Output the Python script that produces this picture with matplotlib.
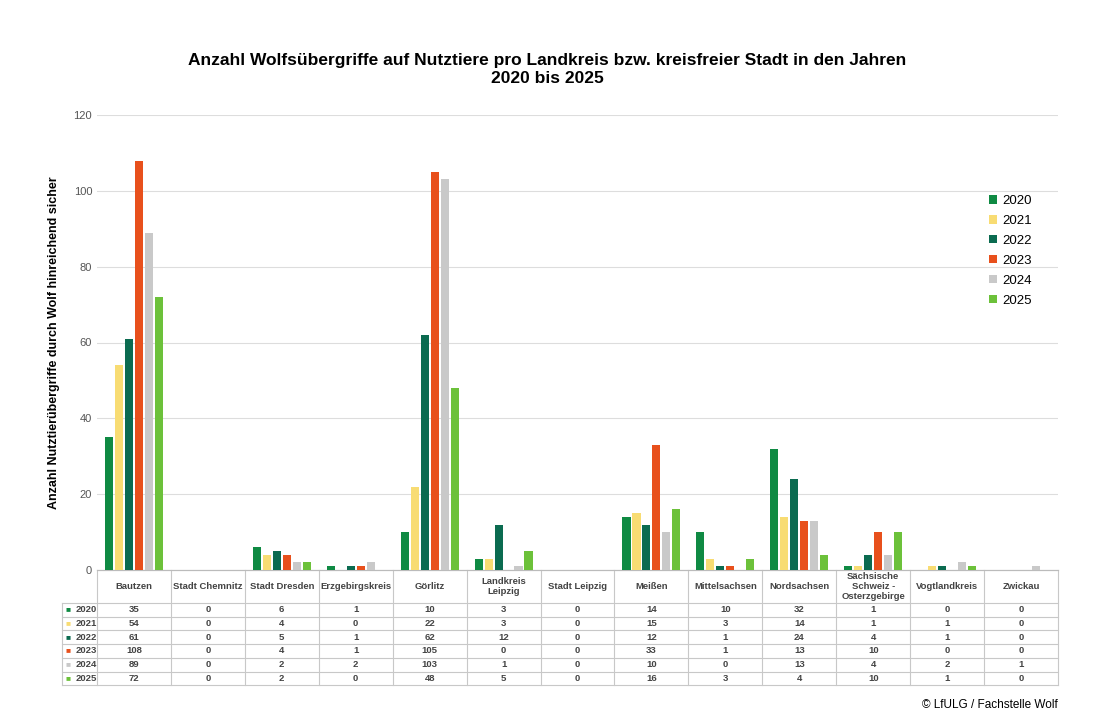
import matplotlib.pyplot as plt
import numpy as np

regions = ['Bautzen', 'Stadt Chemnitz', 'Stadt Dresden', 'Erzgebirgskreis', 'Görlitz',
           'Landkreis\nLeipzig', 'Stadt Leipzig', 'Meißen', 'Mittelsachsen', 'Nordsachsen',
           'Sächsische\nSchweiz -\nOsterzgebirge', 'Vogtlandkreis', 'Zwickau']
years = ['2020', '2021', '2022', '2023', '2024', '2025']
v2020 = [35, 0, 6, 1, 10, 3, 0, 14, 10, 32, 1, 0, 0]
v2021 = [54, 0, 4, 0, 22, 3, 0, 15, 3, 14, 1, 1, 0]
v2022 = [61, 0, 5, 1, 62, 12, 0, 12, 1, 24, 4, 1, 0]
v2023 = [108, 0, 4, 1, 105, 0, 0, 33, 1, 13, 10, 0, 0]
v2024 = [89, 0, 2, 2, 103, 1, 0, 10, 0, 13, 4, 2, 1]
v2025 = [72, 0, 2, 0, 48, 5, 0, 16, 3, 4, 10, 1, 0]
series = [v2020, v2021, v2022, v2023, v2024, v2025]
colors = ['#0f8a43', '#f8dc73', '#0b6b50', '#e8501c', '#c9c9c9', '#6cc13a']

plt.rcParams['font.family'] = ['Liberation Sans', 'DejaVu Sans']
fig = plt.figure(figsize=(10.95, 7.28), dpi=100)
ax = fig.add_axes([97/1095, 158/728, 961/1095, 455/728])

n = len(regions)
x = np.arange(n)
step = 0.135
bw = 0.11
for i, (vals, c, y) in enumerate(zip(series, colors, years)):
    ax.bar(x + (i - 2.5) * step, vals, width=bw, color=c, label=y, zorder=3)

ax.set_xlim(-0.5, n - 0.5)
ax.set_ylim(0, 120)
ax.set_yticks(range(0, 121, 20))
ax.tick_params(axis='y', labelsize=8, colors='#555555', length=0)
ax.set_xticks([])
ax.grid(axis='y', color='#dddddd', linewidth=0.8, zorder=0)
for s in ['top', 'right', 'left']:
    ax.spines[s].set_visible(False)
ax.spines['bottom'].set_color('#bbbbbb')
ax.set_ylabel('Anzahl Nutztierübergriffe durch Wolf hinreichend sicher',
              fontsize=9, fontweight='bold', labelpad=10)
ax.legend(loc='upper right', bbox_to_anchor=(0.985, 0.85), frameon=False,
          fontsize=9.5, handlelength=0.6, handleheight=0.6, labelspacing=0.6,
          handletextpad=0.4)

fig.suptitle('Anzahl Wolfsübergriffe auf Nutztiere pro Landkreis bzw. kreisfreier Stadt in den Jahren\n2020 bis 2025',
             y=0.927, fontsize=12.5, fontweight='bold')

# table below the axes, in axes-fraction coordinates
tr = ax.transAxes
hpx = 455.0
head = 33 / hpx
row = 13.7 / hpx
left = -35 / 961
lc = '#c8c8c8'
total = head + 6 * row
ys = [0, -head] + [-head - (k + 1) * row for k in range(6)]
for k, yy in enumerate(ys):
    x0 = 0 if k == 0 else left
    ax.plot([x0, 1], [yy, yy], transform=tr, color=lc, lw=0.8, clip_on=False)
for j in range(n + 1):
    xx = j / n
    ax.plot([xx, xx], [0, -total], transform=tr, color=lc, lw=0.8, clip_on=False)
ax.plot([left, left], [-head, -total], transform=tr, color=lc, lw=0.8, clip_on=False)
for j, r in enumerate(regions):
    ax.text((j + 0.5) / n, -head / 2, r, transform=tr, ha='center', va='center',
            fontsize=6.8, fontweight='bold', color='#444444', linespacing=1.1)
for i, (vals, c, y) in enumerate(zip(series, colors, years)):
    yc = -head - (i + 0.5) * row
    ax.text(left + 0.004, yc, '■', transform=tr, ha='left', va='center', fontsize=6, color=c)
    ax.text(left + 0.014, yc, y, transform=tr, ha='left', va='center', fontsize=6.8,
            fontweight='bold', color='#444444')
    for j, v in enumerate(vals):
        ax.text((j + 0.5) / n, yc, str(v), transform=tr, ha='center', va='center',
                fontsize=6.8, fontweight='bold', color='#444444')

fig.text(1058/1095, 1 - 705/728, '© LfULG / Fachstelle Wolf', ha='right', va='center', fontsize=8.5)

fig.savefig('out.png', dpi=100)
